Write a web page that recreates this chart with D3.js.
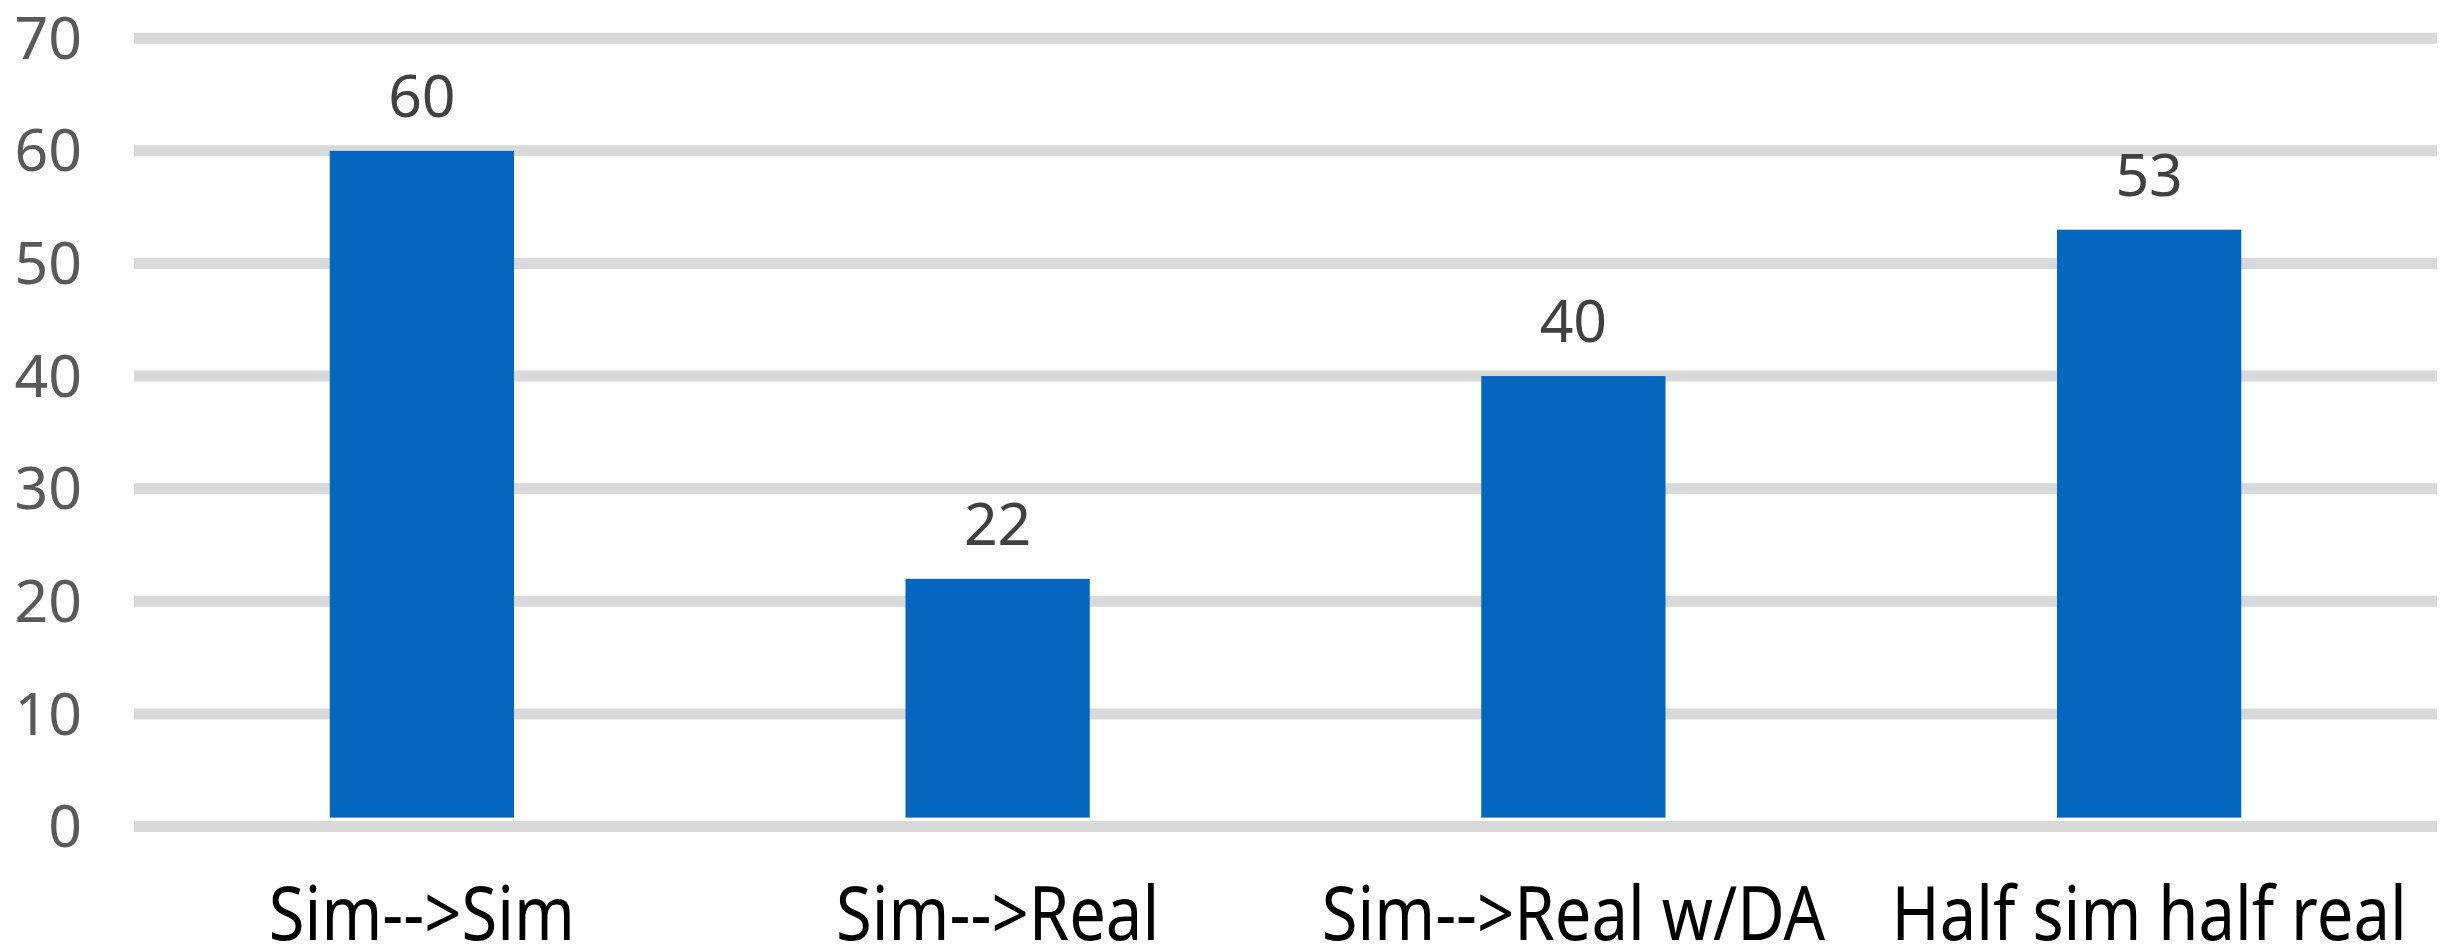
<!DOCTYPE html>
<html>
<head>
<meta charset="utf-8">
<script src="https://cdn.jsdelivr.net/npm/d3@7"></script>
<style>
  html, body { margin: 0; padding: 0; background: #ffffff; }
  svg { display: block; }
</style>
</head>
<body>
<svg id="chart" width="2452" height="949"></svg>
<script>
// Accuracy by training / testing setup
const categories = ["Sim-->Sim", "Sim-->Real", "Sim-->Real w/DA", "Half sim half real"];
const values = [60, 22, 40, 53];
const yTicks = [0, 10, 20, 30, 40, 50, 60, 70];

const W = 2452, H = 949;
const plot = { left: 134, right: 2437, top: 38.2, bottom: 826.6 };

const svg = d3.select("#chart");
svg.append("rect").attr("width", W).attr("height", H).attr("fill", "#ffffff");

const x = d3.scaleBand()
  .domain(categories)
  .range([plot.left, plot.right])
  .paddingInner(0.68)
  .paddingOuter(0.34);

const y = d3.scaleLinear()
  .domain([0, 70])
  .range([plot.bottom, plot.top]);

const font = "'Noto Sans', 'Open Sans', sans-serif";

// Horizontal gridlines
svg.append("g")
  .selectAll("line")
  .data(yTicks)
  .join("line")
  .attr("x1", plot.left)
  .attr("x2", plot.right)
  .attr("y1", d => y(d))
  .attr("y2", d => y(d))
  .attr("stroke", "#d9d9d9")
  .attr("stroke-width", 11);

// Y axis labels
const yAxis = d3.axisLeft(y).tickValues(yTicks).tickSize(0).tickPadding(0);
const gy = svg.append("g")
  .attr("transform", `translate(${plot.left - 52},0)`)
  .call(yAxis);
gy.select(".domain").remove();
gy.selectAll("text")
  .attr("font-family", font)
  .attr("font-size", 59)
  .attr("fill", "#595959")
  .attr("dy", "0.34em");

// Bars stop just above the baseline rule
const baseGap = 9;
svg.append("g")
  .selectAll("rect")
  .data(values)
  .join("rect")
  .attr("x", (d, i) => x(categories[i]))
  .attr("width", x.bandwidth())
  .attr("y", d => y(d))
  .attr("height", d => y(0) - baseGap - y(d))
  .attr("fill", "#0566c0");

// Value labels above bars
svg.append("g")
  .selectAll("text")
  .data(values)
  .join("text")
  .attr("x", (d, i) => x(categories[i]) + x.bandwidth() / 2)
  .attr("y", d => y(d) - 34)
  .attr("text-anchor", "middle")
  .attr("font-family", font)
  .attr("font-size", 59)
  .attr("fill", "#404040")
  .text(d => d);

// Category labels
const xLabelY = 940;
svg.append("g")
  .selectAll("text")
  .data(categories)
  .join("text")
  .attr("transform", d => `translate(${x(d) + x.bandwidth() / 2},${xLabelY}) scale(0.88,1)`)
  .attr("text-anchor", "middle")
  .attr("font-family", font)
  .attr("font-size", 74)
  .attr("fill", "#000000")
  .text(d => d);
</script>
</body>
</html>
